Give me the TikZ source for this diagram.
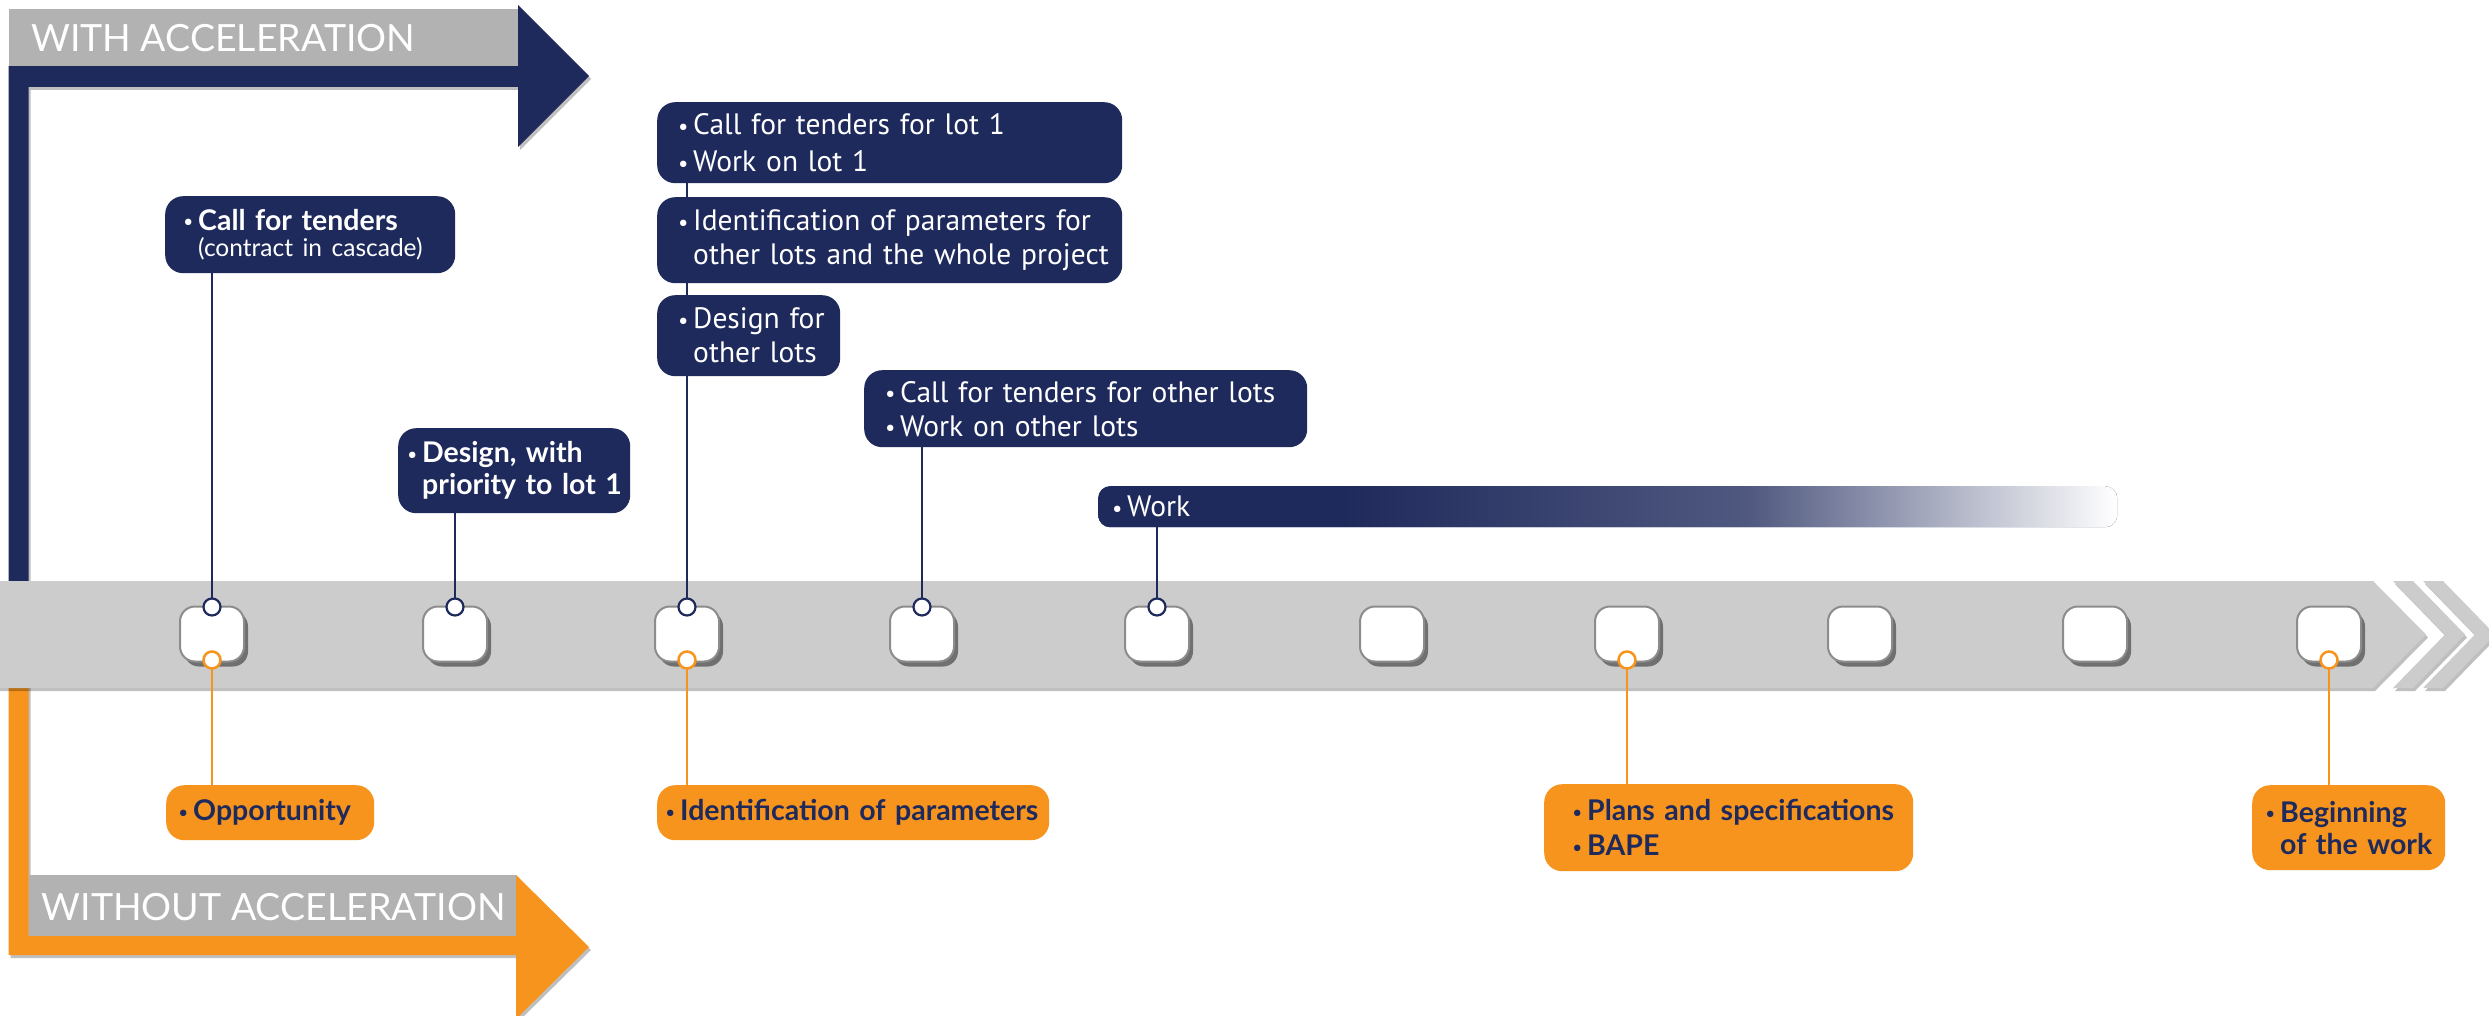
\documentclass[tikz,border=0pt]{standalone}
\usepackage{fontspec}
\setmainfont{Lato}
\newfontfamily\condf{PT Sans}
\usetikzlibrary{shadows}
\definecolor{navyc}{RGB}{31,42,92}
\definecolor{orangec}{RGB}{247,148,29}
\definecolor{bandc}{RGB}{204,204,204}
\definecolor{labelc}{RGB}{178,178,178}
\definecolor{msborder}{RGB}{140,140,140}
\colorlet{navymid}{navyc!78!white}
\pgfdeclarehorizontalshading{workfade}{100bp}{color(0bp)=(navyc); color(37bp)=(navyc); color(57bp)=(navymid); color(75bp)=(white); color(100bp)=(white)}
\pgfdeclarelayer{bgl}
\pgfdeclarelayer{connl}
\pgfsetlayers{bgl,connl,main}
\newcommand{\mybul}{\makebox[15pt][l]{\raisebox{0.5pt}{\condf\mdseries\fontsize{23}{23}\selectfont •}}}
\newcommand{\myind}{\hspace*{15pt}}
\newcommand{\bl}[1]{\mbox{\mybul #1}}
\newcommand{\il}[1]{\mbox{\myind #1}}
\begin{document}
\begin{tikzpicture}[x=1pt,y=-1pt,
  navybox/.style={fill=navyc, text=white, rounded corners=18pt, anchor=north west, align=left, inner ysep=0pt},
  orbox/.style={fill=orangec, text=navyc, rounded corners=18pt, anchor=north west, align=left, inner ysep=0pt},
  rfont/.style={font=\fontsize{28.5}{32}\selectfont\bfseries},
  cfont/.style={font=\condf\fontsize{29.5}{34}\selectfont},
  ms/.style={draw=msborder, line width=2pt, fill=white, rounded corners=15pt, minimum width=64pt, minimum height=55pt, drop shadow={shadow xshift=4pt, shadow yshift=-5pt, fill=black, opacity=0.45}},
  ncirc/.style={circle, draw=navyc, line width=2.2pt, fill=white, minimum size=17pt, inner sep=0pt},
  ocirc/.style={circle, draw=orangec, line width=2.5pt, fill=white, minimum size=17pt, inner sep=0pt},
  nline/.style={draw=navyc, line width=2.6pt},
  oline/.style={draw=orangec, line width=2.6pt},
  hdr/.style={font=\fontsize{37.5}{37.5}\selectfont, text=white, anchor=base west, inner sep=0pt},
  softshadow/.style={drop shadow={shadow xshift=2pt, shadow yshift=-3pt, fill=black, opacity=0.25}}
]
\useasboundingbox (0,0) rectangle (2489,1016);
\begin{pgfonlayer}{bgl}
  \fill[white] (0,0) rectangle (2489,1016);
  % with acceleration arrow
  \fill[navyc, softshadow] (8.7,66) -- (518,66) -- (518,5) -- (589,76) -- (518,147) -- (518,87) -- (28.5,87) -- (28.5,600) -- (8.7,600) -- cycle;
  \fill[labelc] (8.7,9) rectangle (518,66);
  % without acceleration arrow
  \fill[orangec, softshadow] (8.7,670) -- (8.7,955) -- (516,955) -- (516,1019) -- (589,947) -- (516,875) -- (516,936) -- (28.5,936) -- (28.5,670) -- cycle;
  \fill[labelc] (28.5,875) rectangle (516,936);
  % timeline band and chevrons
  \fill[bandc, softshadow] (2423,581) -- (2443,581) -- (2495,634.5) -- (2443,688) -- (2423,688) -- (2475,634.5) -- cycle;
  \fill[bandc, softshadow] (2393,581) -- (2413,581) -- (2465,634.5) -- (2413,688) -- (2393,688) -- (2445,634.5) -- cycle;
  \fill[bandc, softshadow] (-10,581) -- (2373,581) -- (2426,634.5) -- (2373,688) -- (-10,688) -- cycle;
\end{pgfonlayer}

\node[hdr] (hw) at (31,52) {WITH ACCELERATION};
\node[hdr] (hwo) at (41.5,920) {WITHOUT ACCELERATION};

% milestones
\foreach \i/\x in {1/212,2/455,3/687,4/922,5/1157,6/1392,7/1627,8/1860,9/2095,10/2329}{
  \node[ms] (m\i) at (\x,634) {};
}
\node[ncirc] (nc1) at (212,607) {};
\node[ncirc] (nc2) at (455,607) {};
\node[ncirc] (nc3) at (687,607) {};
\node[ncirc] (nc4) at (922,607) {};
\node[ncirc] (nc5) at (1157,607) {};
\node[ocirc] (oc1) at (212,660) {};
\node[ocirc] (oc3) at (687,660) {};
\node[ocirc] (oc7) at (1627,660) {};
\node[ocirc] (oc10) at (2329,660) {};

% navy boxes
\node[navybox, font=\fontsize{28.5}{30}\selectfont\bfseries, minimum width=290pt, minimum height=77pt, inner xsep=18pt, text width=254pt] (N1) at (165,196)
  {\bl{Call for tenders}\\[-4pt]\mbox{\fontsize{24.5}{27}\selectfont\mdseries\myind(contract in cascade)}};
\node[navybox, rfont, minimum width=232pt, minimum height=85pt, inner xsep=9pt, text width=214pt] (N2) at (398,428)
  {\bl{Design, with}\\\il{priority to lot 1}};
\node[navybox, cfont, minimum width=465pt, minimum height=81pt, inner xsep=21pt, text width=423pt] (A) at (657,102)
  {\bl{Call for tenders for lot 1}\\[3pt]\bl{Work on lot 1}};
\node[navybox, cfont, minimum width=465pt, minimum height=86pt, inner xsep=21pt, text width=423pt] (B) at (657,197)
  {\bl{Identification of parameters for}\\\il{other lots and the whole project}};
\node[navybox, cfont, minimum width=183pt, minimum height=81pt, inner xsep=21pt, text width=141pt] (C) at (657,295)
  {\bl{Design for}\\\il{other lots}};
\node[navybox, cfont, minimum width=443pt, minimum height=77pt, inner xsep=21pt, text width=401pt] (D) at (864,370)
  {\bl{Call for tenders for other lots}\\\bl{Work on other lots}};
\node[navybox, cfont, shading=workfade, rounded corners=12pt, minimum width=1019pt, minimum height=41pt, inner xsep=14pt, text width=991pt] (W) at (1098,486)
  {\bl{Work}};

% orange boxes
\node[orbox, rfont, minimum width=208pt, minimum height=55pt, inner xsep=12pt, text width=184pt] (O1) at (166,785)
  {\bl{Opportunity}};
\node[orbox, rfont, minimum width=392pt, minimum height=55pt, inner xsep=8pt, text width=376pt] (O2) at (657,785)
  {\bl{Identification of parameters}};
\node[orbox, rfont, minimum width=369pt, minimum height=87pt, inner xsep=28pt, text width=313pt] (O3) at (1544,784)
  {\bl{Plans and specifications}\\[3pt]\bl{BAPE}};
\node[orbox, rfont, minimum width=193pt, minimum height=85pt, inner xsep=13pt, text width=167pt] (O4) at (2252,785)
  {\bl{Beginning}\\\il{of the work}};

% connectors
\begin{pgfonlayer}{connl}
  \draw[nline] (N1.south -| nc1) -- (nc1.center);
  \draw[nline] (N2.south -| nc2) -- (nc2.center);
  \draw[nline] (A.south -| nc3) -- (nc3.center);
  \draw[nline] (D.south -| nc4) -- (nc4.center);
  \draw[nline] (W.south -| nc5) -- (nc5.center);
  \draw[oline] (oc1.center) -- (O1.north -| oc1);
  \draw[oline] (oc3.center) -- (O2.north -| oc3);
  \draw[oline] (oc7.center) -- (O3.north -| oc7);
  \draw[oline] (oc10.center) -- (O4.north -| oc10);
\end{pgfonlayer}
\end{tikzpicture}
\end{document}
